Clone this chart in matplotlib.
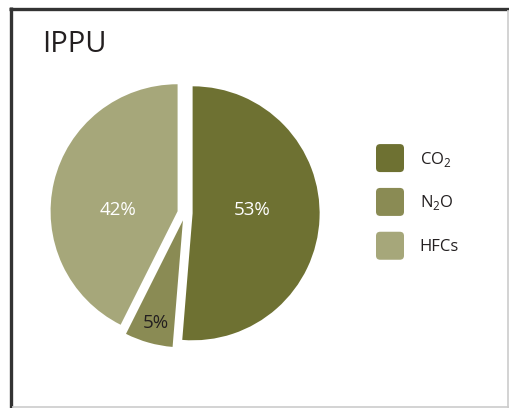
import matplotlib
matplotlib.use("Agg")
from matplotlib import pyplot as plt
from matplotlib.patches import FancyBboxPatch, Patch
from matplotlib.legend_handler import HandlerPatch
from matplotlib.lines import Line2D

plt.rcParams['font.family'] = ['Open Sans', 'DejaVu Sans']

# data (slice sizes as drawn; printed labels as shown on the chart)
gases = [r'CO$_\mathregular{2}$', r'N$_\mathregular{2}$O', 'HFCs']
shares = [51.3, 6.1, 42.6]
pct_labels = ['53%', '5%', '42%']
colors = ['#6e7132', '#8a8b54', '#a6a77a']
pct_colors = ['white', '#231f20', 'white']
# where each % label sits (in pie radius units)
pct_pos = [(0.53, 0.02), (-0.23, -0.87), (-0.53, 0.02)]

W, H = 509, 408
fig = plt.figure(figsize=(W / 100, H / 100), dpi=100)

#--frame--#
dark = dict(color='#333333', lw=2.4, solid_capstyle='butt')
light = dict(color='#cccccc', lw=1.2, solid_capstyle='butt')
fig.add_artist(Line2D([10.5 / W, 10.5 / W], [0, 1 - 7.3 / H], **dark))
fig.add_artist(Line2D([9.3 / W, 1], [1 - 8.5 / H, 1 - 8.5 / H], **dark))
fig.add_artist(Line2D([507.5 / W, 507.5 / W], [0, 1 - 9.7 / H], **light))
fig.add_artist(Line2D([11.7 / W, 1], [0.6 / H, 0.6 / H], **light))

fig.text(42 / W, 1 - 45 / H, 'IPPU', fontsize=21, color='#231f20', va='center', ha='left')

#--pie--#
cx, cy, r = 185, 408 - 213, 127
half = 1.25
ax = fig.add_axes([(cx - half * r) / W, (cy - half * r) / H, 2 * half * r / W, 2 * half * r / H])
ax.axis('off')

wedges, _ = ax.pie(shares, colors=colors, startangle=90, counterclock=False,
                   explode=[0.06] * len(shares), radius=1, wedgeprops=dict(linewidth=0))
for lab, c, p in zip(pct_labels, pct_colors, pct_pos):
    ax.text(p[0], p[1], lab, color=c, fontsize=13.5, ha='center', va='center')
ax.set_xlim(-half, half)
ax.set_ylim(-half, half)
ax.set_aspect('equal')

#--legend--#
class RoundBox(HandlerPatch):
    def __init__(self):
        super().__init__(patch_func=self.make)

    def make(self, legend, orig_handle, xdescent, ydescent, width, height, fontsize):
        # square box, centred on the row
        yc = -ydescent + height / 2
        return FancyBboxPatch((-xdescent, yc - width / 2), width, width,
                              boxstyle="round,pad=0,rounding_size=3")

handles = [Patch(facecolor=c, edgecolor='none') for c in colors]
fs = 12
fig.legend(handles, gases, loc='upper left', bbox_to_anchor=(376 / W, 1 - 149 / H),
           frameon=False, fontsize=fs, handlelength=1.68, handleheight=1.3,
           handletextpad=0.95, labelspacing=1.45, borderpad=0, borderaxespad=0,
           handler_map={Patch: RoundBox()}, labelcolor='#231f20')

fig.savefig('out.png', dpi=100)
